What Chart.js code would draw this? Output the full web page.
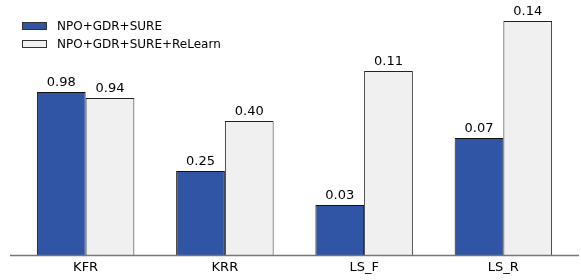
<!DOCTYPE html>
<html>
<head>
<meta charset="utf-8">
<script src="https://cdn.jsdelivr.net/npm/chart.js@4/dist/chart.umd.min.js"></script>
<style>
  html, body { margin: 0; padding: 0; background: #fff; }
  #wrap { width: 581px; height: 280px; }
</style>
</head>
<body>
<div id="wrap"><canvas id="barChart" width="581" height="280"></canvas></div>
<script>
// categories and series
const categories = ["KFR", "KRR", "LS_F", "LS_R"];
const seriesNames = ["NPO+GDR+SURE", "NPO+GDR+SURE+ReLearn"];

// values printed above the bars
const sureValues = [0.98, 0.25, 0.03, 0.07];
const relearnValues = [0.94, 0.40, 0.11, 0.14];

// bar heights as drawn (each group uses its own scale in the original)
const sureHeights = [163, 84, 50, 117];
const relearnHeights = [157, 134, 184, 234];

const labelSets = [sureValues, relearnValues];

document.addEventListener("DOMContentLoaded", function() {
    const ctx = document.getElementById("barChart").getContext('2d');

    // value labels on top of each bar
    const valueLabels = {
        id: 'valueLabels',
        afterDatasetsDraw(chart) {
            const c = chart.ctx;
            c.save();
            c.font = '13px "DejaVu Sans"';
            c.fillStyle = '#000';
            c.textAlign = 'center';
            c.textBaseline = 'bottom';
            chart.data.datasets.forEach((ds, i) => {
                chart.getDatasetMeta(i).data.forEach((bar, j) => {
                    c.fillText(labelSets[i][j].toFixed(2), bar.x, bar.y - 3);
                });
            });
            c.restore();
        }
    };

    // baseline and legend box in the top-left corner
    const extras = {
        id: 'extras',
        afterDraw(chart) {
            const c = chart.ctx;
            const y = chart.chartArea.bottom + 0.5;
            c.save();
            c.strokeStyle = '#777';
            c.lineWidth = 1.3;
            c.beginPath();
            c.moveTo(10, y);
            c.lineTo(579, y);
            c.stroke();

            c.font = '12px "DejaVu Sans"';
            c.textBaseline = 'middle';
            c.textAlign = 'left';
            chart.data.datasets.forEach((ds, i) => {
                const top = 22 + i * 18;
                c.fillStyle = ds.backgroundColor;
                c.fillRect(22, top, 25, 8);
                c.strokeStyle = '#333';
                c.lineWidth = 1;
                c.strokeRect(22.5, top + 0.5, 24, 7);
                c.fillStyle = '#000';
                c.fillText(ds.label, 57, top + 4.5);
            });
            c.restore();
        }
    };

    new Chart(ctx, {
        type: 'bar',
        data: {
            labels: categories,
            datasets: [{
                label: seriesNames[0],
                data: sureHeights,
                backgroundColor: '#2f55a4',
                borderColor: '#111',
                borderWidth: 1
            }, {
                label: seriesNames[1],
                data: relearnHeights,
                backgroundColor: '#f0f0f0',
                borderColor: '#222',
                borderWidth: 1
            }]
        },
        options: {
            responsive: false,
            animation: false,
            layout: { padding: { left: 16, right: 8, top: 0, bottom: 0 } },
            datasets: {
                bar: { categoryPercentage: 0.7, barPercentage: 1.0 }
            },
            plugins: {
                legend: { display: false },
                tooltip: { enabled: false }
            },
            scales: {
                x: {
                    grid: { display: false, drawTicks: false },
                    border: { display: false },
                    ticks: {
                        color: '#000',
                        padding: 5,
                        font: { family: 'DejaVu Sans', size: 13 }
                    },
                    afterFit(scale) { scale.height = 25; }
                },
                y: {
                    display: false,
                    min: 0,
                    max: 255
                }
            }
        },
        plugins: [valueLabels, extras]
    });
});
</script>
</body>
</html>
